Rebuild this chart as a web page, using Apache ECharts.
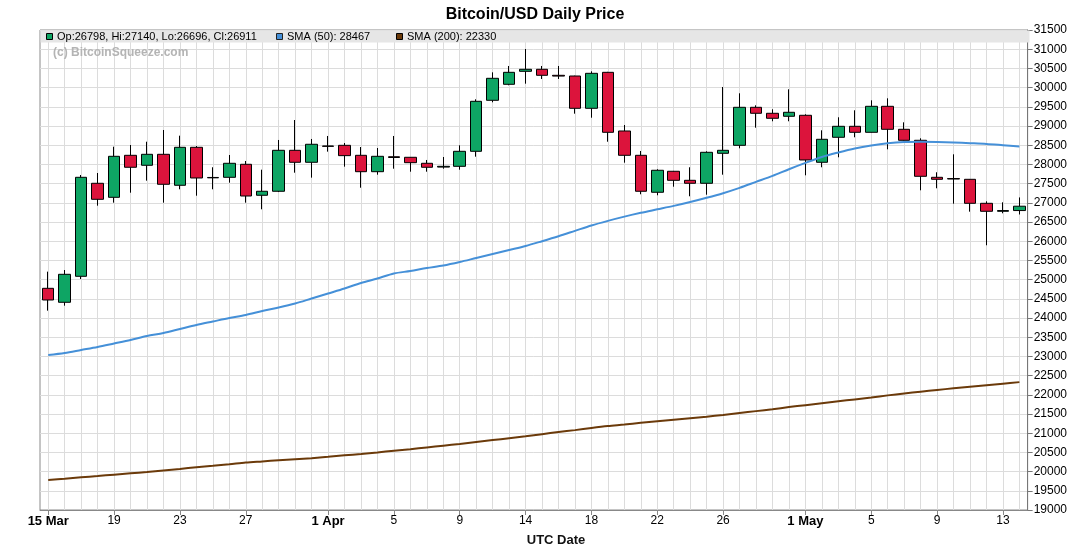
<!DOCTYPE html>
<html><head><meta charset="utf-8">
<script src="https://cdn.jsdelivr.net/npm/echarts@6/dist/echarts.min.js"></script>
<style>html,body{margin:0;padding:0;background:#fff}#c{width:1070px;height:546px}</style>
</head><body><div id="c"></div>
<script>
const dates = [
 '2023-03-15','2023-03-16','2023-03-17','2023-03-18','2023-03-19','2023-03-20','2023-03-21','2023-03-22','2023-03-23','2023-03-24',
 '2023-03-25','2023-03-26','2023-03-27','2023-03-28','2023-03-29','2023-03-30','2023-03-31','2023-04-01','2023-04-02','2023-04-03',
 '2023-04-04','2023-04-05','2023-04-06','2023-04-07','2023-04-08','2023-04-09','2023-04-10','2023-04-11','2023-04-13','2023-04-14',
 '2023-04-15','2023-04-16','2023-04-17','2023-04-18','2023-04-19','2023-04-20','2023-04-21','2023-04-22','2023-04-23','2023-04-24',
 '2023-04-25','2023-04-26','2023-04-27','2023-04-28','2023-04-29','2023-04-30','2023-05-01','2023-05-02','2023-05-03','2023-05-04',
 '2023-05-05','2023-05-06','2023-05-07','2023-05-08','2023-05-09','2023-05-10','2023-05-11','2023-05-12','2023-05-13','2023-05-14'];
const open = [24773,24409,25086,27508,27143,28237,27977,28263,27456,28445,
 27650,27664,28003,27196,27300,28367,28055,28480,28497,28237,
 27810,28200,28185,28029,27930,27950,28341,29669,30086,30424,
 30477,30320,30302,29461,30398,28870,28237,27274,27821,27586,
 27508,28289,28497,29487,29331,29253,29279,28055,28706,28992,
 28836,29513,28914,28628,27664,27630,27612,26987,26779,26798];
const high = [25207,25250,27724,27776,28461,28505,28591,28896,28748,28479,
 27925,28245,28089,27862,28636,29156,28662,28740,28557,28453,
 28427,28740,28190,28115,28193,28497,29695,30398,30563,31005,
 30563,30563,30310,30424,30410,29026,28349,27873,27830,27925,
 28341,30016,29852,29539,29435,29956,29305,28888,29227,29409,
 29669,29721,29096,28680,27795,28263,27620,27039,27013,27140];
const low = [24191,24321,25016,26925,27003,27263,27576,27003,27352,27185,
 27352,27524,27003,26831,27280,27784,27655,28332,27941,27393,
 27732,27888,27810,27810,27888,27862,28201,29617,30060,30102,
 30224,30224,29321,29216,28591,28045,27222,27196,27419,27170,
 27211,27732,28419,28956,29123,29123,27716,27925,28185,28706,
 28830,28393,28620,27326,27378,26977,26769,25894,26727,26696];
const close = [24469,25138,27664,27091,28211,27925,28263,27482,28445,27646,
 27660,28029,27177,27300,28367,28055,28524,28470,28228,27810,
 28211,28180,28045,27925,27950,28341,29643,30242,30398,30477,
 30320,30300,29461,30372,28836,28237,27300,27847,27586,27508,
 28315,28367,29487,29331,29201,29357,28115,28654,28992,28836,
 29513,28914,28628,27690,27612,27620,26987,26779,26798,26911];
const sma50 = [23037,23089,23167,23245,23336,23428,23532,23610,23714,23818,
 23909,24000,24079,24183,24274,24378,24508,24638,24768,24912,
 25029,25159,25224,25302,25367,25458,25563,25667,25771,25875,
 26000,26130,26270,26410,26530,26640,26740,26830,26920,27020,
 27130,27250,27390,27545,27700,27875,28040,28193,28310,28414,
 28492,28550,28583,28591,28585,28570,28552,28532,28500,28467];
const sma200 = [19782,19815,19850,19884,19920,19955,19990,20030,20070,20112,
 20150,20190,20235,20265,20295,20322,20350,20385,20423,20460,
 20500,20545,20585,20630,20675,20720,20770,20820,20870,20920,
 20975,21030,21080,21135,21185,21225,21270,21310,21350,21390,
 21430,21475,21525,21575,21625,21680,21730,21780,21830,21880,
 21930,21985,22035,22080,22125,22170,22210,22250,22290,22330];
const tickDates = ['2023-03-15','2023-03-19','2023-03-23','2023-03-27','2023-04-01','2023-04-05','2023-04-09','2023-04-14',
 '2023-04-18','2023-04-22','2023-04-26','2023-05-01','2023-05-05','2023-05-09','2023-05-13'];
const tickLabels = ['15 Mar','19','23','27','1 Apr','5','9','14','18','22','26','1 May','5','9','13'];
const boldTicks = ['15 Mar','1 Apr','1 May'];

const tickIdx = tickDates.map(d => dates.indexOf(d));
const n = dates.length;
const last = n - 1;
const candleData = dates.map((d, i) => [i, open[i], close[i], low[i], high[i]]);
const FF = 'Liberation Sans, Arial, sans-serif';
const GREEN = '#0ea564', RED = '#dc143c', BLUE = '#4590d8', BROWN = '#6b3a0a';

const chart = echarts.init(document.getElementById('c'), null, {renderer: 'canvas'});
chart.setOption({
  animation: false,
  title: {text: 'Bitcoin/USD Daily Price', left: 'center', top: 2,
    textStyle: {fontFamily: FF, fontSize: 16, fontWeight: 'bold', color: '#000'}},
  grid: {left: 40, right: 40, top: 30, bottom: 36, show: true, borderColor: '#8a8a8a', borderWidth: 1},
  xAxis: [
    {type: 'value', min: -0.5, max: n - 0.5, interval: 0.5, position: 'bottom',
      axisLine: {show: true, onZero: false, lineStyle: {color: '#888'}}, axisTick: {show: false}, axisLabel: {show: false},
      splitLine: {show: true, lineStyle: {color: ['rgba(0,0,0,0)', '#dcdcdc'], width: 1}}},
    {type: 'value', min: -0.5, max: n - 0.5, position: 'bottom',
      axisLine: {show: false, onZero: false},
      axisTick: {show: true, customValues: tickIdx, length: 5, lineStyle: {color: '#888'}},
      axisLabel: {customValues: tickIdx, margin: 5,
        formatter: function (v) {
          const k = tickIdx.indexOf(Math.round(v));
          const s = k >= 0 ? tickLabels[k] : '';
          return boldTicks.indexOf(s) >= 0 ? '{b|' + s + '}' : '{n|' + s + '}';
        },
        rich: {b: {fontFamily: FF, fontWeight: 'bold', fontSize: 13, color: '#000'},
               n: {fontFamily: FF, fontSize: 12, color: '#000'}}},
      splitLine: {show: false}}
  ],
  yAxis: {type: 'value', position: 'right', min: 19000, max: 31500, interval: 500,
    axisLine: {show: true, onZero: false, lineStyle: {color: '#777'}},
    axisTick: {show: true, length: 5, lineStyle: {color: '#777'}},
    axisLabel: {fontFamily: FF, fontSize: 12, color: '#000', margin: 6, formatter: v => String(v)},
    splitLine: {show: true, lineStyle: {color: '#dcdcdc', width: 1}}},
  series: [
    {type: 'candlestick', xAxisIndex: 0, data: candleData, barWidth: 12, encode: {x: 0, y: [1, 2, 3, 4]},
      itemStyle: {color: GREEN, color0: RED, borderColor: '#000', borderColor0: '#000', borderWidth: 1}, z: 2},
    {type: 'line', xAxisIndex: 0, data: sma50.map((v, i) => [i, v]), showSymbol: false, smooth: 0.3,
      lineStyle: {color: BLUE, width: 2}, z: 3},
    {type: 'line', xAxisIndex: 0, data: sma200.map((v, i) => [i, v]), showSymbol: false, smooth: 0.3,
      lineStyle: {color: BROWN, width: 2}, z: 3}
  ],
  graphic: [
    {type: 'rect', z: 50, shape: {x: 40.5, y: 30.5, width: 989, height: 12}, style: {fill: '#e6e6e6'}},
    {type: 'rect', z: 51, shape: {x: 46.5, y: 33.5, width: 6, height: 6}, style: {fill: GREEN, stroke: '#000', lineWidth: 1}},
    {type: 'text', z: 51, x: 57, y: 37, style: {text: 'Op:' + open[last] + ', Hi:' + high[last] + ', Lo:' + low[last] + ', Cl:' + close[last],
      font: '11px ' + FF, fill: '#000', verticalAlign: 'middle'}},
    {type: 'rect', z: 51, shape: {x: 276.5, y: 33.5, width: 6, height: 6}, style: {fill: BLUE, stroke: '#222', lineWidth: 1}},
    {type: 'text', z: 51, x: 287, y: 37, style: {text: 'SMA (50): ' + sma50[last], font: '11px ' + FF, fill: '#000', verticalAlign: 'middle'}},
    {type: 'rect', z: 51, shape: {x: 396.5, y: 33.5, width: 6, height: 6}, style: {fill: BROWN, stroke: '#000', lineWidth: 1}},
    {type: 'text', z: 51, x: 407, y: 37, style: {text: 'SMA (200): ' + sma200[last], font: '11px ' + FF, fill: '#000', verticalAlign: 'middle'}},
    {type: 'text', z: 51, x: 53, y: 53, style: {text: '(c) BitcoinSqueeze.com', font: 'bold 12px ' + FF, fill: '#b4b4b4', verticalAlign: 'middle'}},
    {type: 'text', z: 51, x: 556, y: 540, style: {text: 'UTC Date', font: 'bold 13px ' + FF, fill: '#111', align: 'center', verticalAlign: 'middle'}}
  ]
});
</script>
</body></html>
